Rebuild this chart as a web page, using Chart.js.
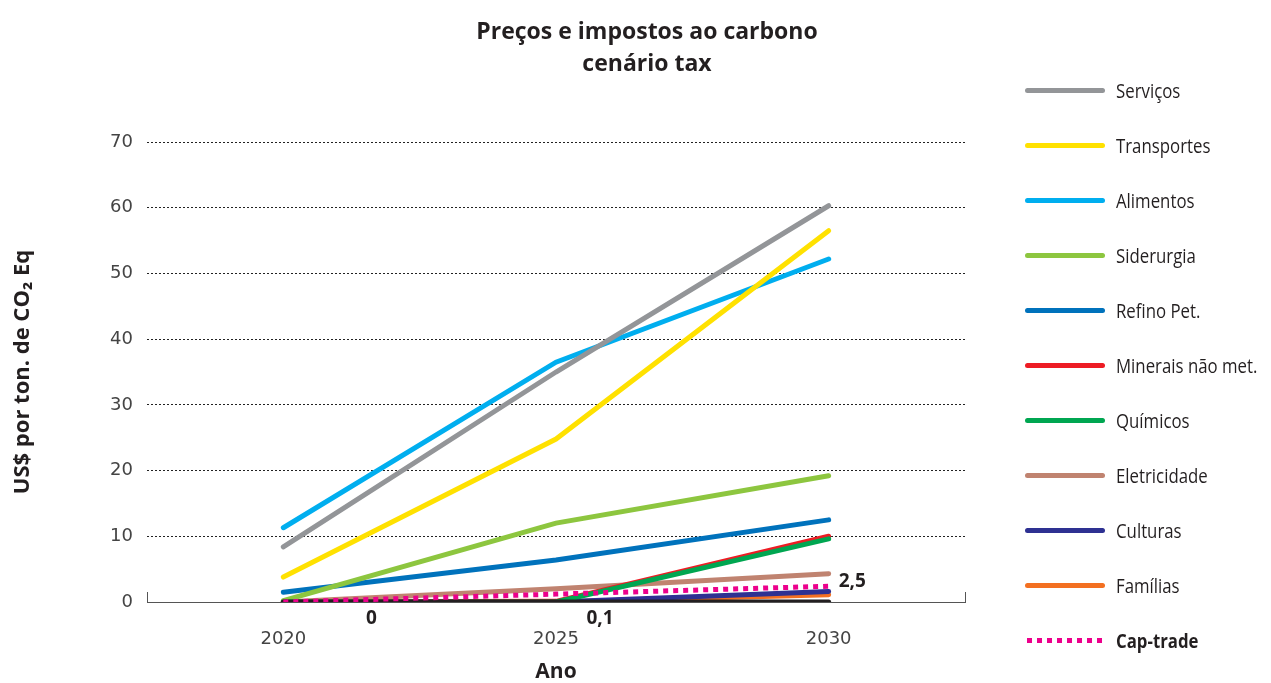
<!DOCTYPE html>
<html>
<head>
<meta charset="utf-8">
<script src="https://cdn.jsdelivr.net/npm/chart.js@4.4.1/dist/chart.umd.min.js"></script>
<style>
  html, body { margin: 0; padding: 0; background: #fff; }
  #wrap { position: relative; width: 1271px; height: 683px; overflow: hidden; }
  #chart { position: absolute; left: 0; top: 0; }
  #title {
    position: absolute; left: 397px; top: 14px; width: 500px;
    text-align: center; color: #231f20;
    font: bold 23px "Open Sans", sans-serif; line-height: 32px;
  }
  #legend { position: absolute; left: 1025px; top: 0; }
  .item { position: absolute; left: 0; height: 24px; display: flex; align-items: center; white-space: nowrap; }
  .swatch { width: 80px; height: 5px; border-radius: 3px; margin-right: 11px; flex: none; }
  .label {
    font: 20px "Open Sans", sans-serif; color: #231f20;
    display: inline-block; transform: scaleX(0.84); transform-origin: left center;
  }
</style>
</head>
<body>
<div id="wrap">
  <canvas id="chart" width="1271" height="683"></canvas>
  <div id="title">Preços e impostos ao carbono<br>cenário tax</div>
  <div id="legend"></div>
</div>
<script>
// Years on the x axis
const years = [2020, 2025, 2030];

// US$ per ton of CO2 eq, by sector
const servicos = [8.4, 35, 60.3];
const transportes = [3.8, 24.8, 56.5];
const alimentos = [11.3, 36.5, 52.2];
const siderurgia = [0.2, 12, 19.2];
const refino = [1.5, 6.4, 12.5];
const minerais = [0, 0.1, 10];
const quimicos = [0, 0, 9.6];
const eletricidade = [0, 2, 4.3];
const culturas = [0, 0, 1.6];
const familias = [0, 0, 1.1];
const capTrade = [0, 1.2, 2.4];
const baseline = [0, 0, 0];

// Value labels written next to the cap-trade line
const capLabels = ['0', '0,1', '2,5'];

const yTicks = [0, 10, 20, 30, 40, 50, 60, 70];

const toPoints = (values) => values.map((v, i) => ({ x: years[i], y: v }));

const series = [
  { label: 'Serviços', data: servicos, color: '#939598' },
  { label: 'Transportes', data: transportes, color: '#ffe100' },
  { label: 'Alimentos', data: alimentos, color: '#00aeef' },
  { label: 'Siderurgia', data: siderurgia, color: '#8dc63f' },
  { label: 'Refino Pet.', data: refino, color: '#0072bc' },
  { label: 'Minerais não met.', data: minerais, color: '#ed1c24' },
  { label: 'Químicos', data: quimicos, color: '#00a651', order: -0.5 },
  { label: 'Eletricidade', data: eletricidade, color: '#c08370' },
  { label: 'Culturas', data: culturas, color: '#2e3192' },
  { label: 'Famílias', data: familias, color: '#f37021' },
];

const datasets = series.map((s) => ({
  label: s.label,
  data: toPoints(s.data),
  borderColor: s.color,
  backgroundColor: s.color,
  borderWidth: 5,
  borderCapStyle: 'round',
  tension: 0,
  pointRadius: 0,
  order: s.order || 0,
}));

// black zero line (not in legend)
datasets.push({
  label: '',
  data: toPoints(baseline),
  borderColor: '#231f20',
  borderWidth: 5,
  borderCapStyle: 'round',
  pointRadius: 0,
  order: -1,
});

datasets.push({
  label: 'Cap-trade',
  data: toPoints(capTrade),
  borderColor: '#ec008c',
  backgroundColor: '#ec008c',
  borderWidth: 5,
  borderDash: [5, 5],
  borderCapStyle: 'butt',
  pointRadius: 0,
  order: -2,
  dotted: true,
});
const capIndex = datasets.length - 1;

// labels near the cap-trade points + little end ticks on the axis
const extras = {
  id: 'extras',
  afterDraw(chart) {
    const { ctx, chartArea, scales: { y } } = chart;
    const meta = chart.getDatasetMeta(capIndex);
    const base = y.getPixelForValue(0);
    ctx.save();
    ctx.strokeStyle = '#555';
    ctx.lineWidth = 1;
    [chartArea.left, chartArea.right].forEach((x) => {
      ctx.beginPath();
      ctx.moveTo(x + 0.5, base);
      ctx.lineTo(x + 0.5, base - 10);
      ctx.stroke();
    });
    ctx.font = 'bold 19px "Open Sans", sans-serif';
    ctx.fillStyle = '#231f20';
    ctx.textBaseline = 'middle';
    meta.data.forEach((pt, i) => {
      if (i === 0) {
        ctx.textAlign = 'center';
        ctx.fillText(capLabels[i], pt.x + 88, base + 17);
      } else if (i === 1) {
        ctx.textAlign = 'center';
        ctx.fillText(capLabels[i], pt.x + 44, base + 17);
      } else {
        ctx.textAlign = 'left';
        ctx.fillText(capLabels[i], pt.x + 10, pt.y - 5);
      }
    });
    ctx.restore();
  },
};

const chart = new Chart(document.getElementById('chart'), {
  type: 'line',
  data: { datasets },
  options: {
    responsive: false,
    animation: false,
    devicePixelRatio: 1,
    layout: { padding: { left: 10, right: 306, top: 142, bottom: 0 } },
    scales: {
      x: {
        type: 'linear',
        min: 2017.5,
        max: 2032.5,
        afterBuildTicks: (scale) => { scale.ticks = years.map((v) => ({ value: v })); },
        afterFit: (scale) => { scale.height = 81; },
        grid: { display: false, drawTicks: false },
        border: { display: true, color: '#555', width: 1 },
        ticks: {
          padding: 27,
          color: '#444',
          font: { family: 'DejaVu Sans', size: 18 },
          callback: (v) => String(v),
        },
        title: {
          display: true,
          text: 'Ano',
          color: '#231f20',
          padding: { top: 0, bottom: 0 },
          font: { family: 'Open Sans', size: 21, weight: 'bold', lineHeight: 1 },
        },
      },
      y: {
        min: 0,
        max: 70,
        afterBuildTicks: (scale) => { scale.ticks = yTicks.map((v) => ({ value: v })); },
        afterFit: (scale) => { scale.width = 137; },
        grid: {
          drawTicks: false,
          lineWidth: 1,
          color: (c) => (c.tick && c.tick.value === 0 ? '#555' : '#222'),
        },
        border: {
          display: false,
          dash: (c) => (c.tick && c.tick.value === 0 ? [] : [2, 2]),
        },
        ticks: {
          padding: 14,
          color: '#444',
          font: { family: 'DejaVu Sans', size: 18 },
        },
        title: {
          display: true,
          text: 'US$ por ton. de CO₂ Eq',
          color: '#231f20',
          padding: { top: 0, bottom: 0 },
          font: { family: 'Open Sans', size: 22, weight: 'bold' },
        },
      },
    },
    plugins: {
      legend: { display: false },
      tooltip: { enabled: false },
    },
  },
  plugins: [extras],
});

// HTML legend built from the datasets
const legend = document.getElementById('legend');
chart.data.datasets.filter((d) => d.label).forEach((d, i) => {
  const item = document.createElement('div');
  item.className = 'item';
  item.style.top = (78 + i * 55) + 'px';
  const sw = document.createElement('div');
  sw.className = 'swatch';
  if (d.dotted) {
    sw.style.background = `repeating-linear-gradient(to right, ${d.borderColor} 0 5px, transparent 5px 10px)`;
    sw.style.borderRadius = '0';
    sw.style.width = '78px';
    sw.style.marginLeft = '2px';
  } else {
    sw.style.background = d.borderColor;
  }
  const lab = document.createElement('span');
  lab.className = 'label';
  lab.textContent = d.label;
  if (d.dotted) lab.style.fontWeight = 'bold';
  item.appendChild(sw);
  item.appendChild(lab);
  legend.appendChild(item);
});
</script>
</body>
</html>
